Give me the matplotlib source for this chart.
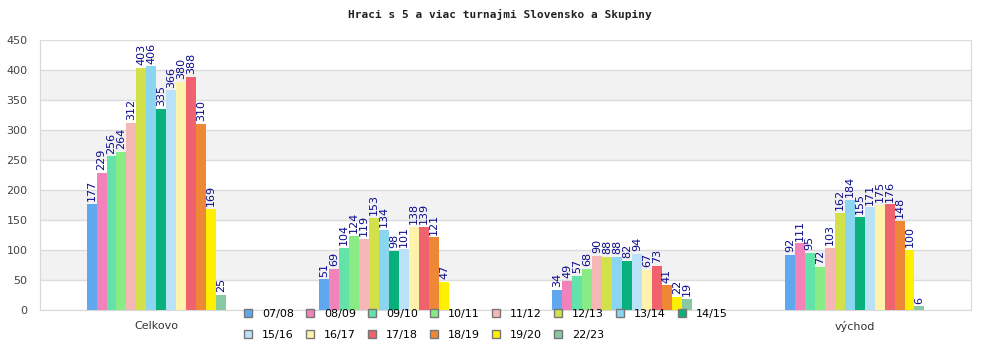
import numpy as np
import matplotlib
matplotlib.use('Agg')
import matplotlib.pyplot as plt
from matplotlib.patches import Patch

title = 'Hraci s 5 a viac turnajmi Slovensko a Skupiny'
categories = ['Celkovo', '', '', 'východ']
seasons = ['07/08', '08/09', '09/10', '10/11', '11/12', '12/13', '13/14',
           '14/15', '15/16', '16/17', '17/18', '18/19', '19/20', '22/23']
colors = ['#5fa8f0', '#f282b9', '#63e3a9', '#88eb83', '#f5b6b6', '#d2e04a',
          '#8ad6f0', '#08b07b', '#b9e2f8', '#fff2aa', '#f0626e', '#ee8836',
          '#fff000', '#88c8a2']

# one list per season, values for the four groups
s0708 = [177, 51, 34, 92]
s0809 = [229, 69, 49, 111]
s0910 = [256, 104, 57, 95]
s1011 = [264, 124, 68, 72]
s1112 = [312, 119, 90, 103]
s1213 = [403, 153, 88, 162]
s1314 = [406, 134, 88, 184]
s1415 = [335, 98, 82, 155]
s1516 = [366, 101, 94, 171]
s1617 = [380, 138, 67, 175]
s1718 = [388, 139, 73, 176]
s1819 = [310, 121, 41, 148]
s1920 = [169, 47, 22, 100]
s2223 = [25, None, 19, 6]
series = [s0708, s0809, s0910, s1011, s1112, s1213, s1314,
          s1415, s1516, s1617, s1718, s1819, s1920, s2223]

fig = plt.figure(figsize=(10, 3.5), dpi=100)
ax = fig.add_axes([0.04, 0.114, 0.931, 0.772])

x = np.arange(len(categories))
n = len(series)
group_w = 0.6
bw = group_w / n

for i, (vals, c) in enumerate(zip(series, colors)):
    xs = x - group_w / 2 + bw * (i + 0.5)
    for xi, v in zip(xs, vals):
        if v is None:
            continue
        ax.bar(xi, v, width=bw, color=c, linewidth=0, zorder=3)
        ax.annotate(str(v), (xi, v), xytext=(0, 2), textcoords='offset points',
                    rotation=90, ha='center', va='bottom', fontsize=8,
                    color='#0a0a8c', zorder=4)

ax.set_xlim(-0.5, len(categories) - 0.5)
ax.set_ylim(0, 450)
ax.set_yticks(range(0, 451, 50))

# alternating background bands
for lo in range(50, 450, 100):
    ax.axhspan(lo, lo + 50, color='#f2f2f2', zorder=0, linewidth=0)
ax.yaxis.grid(True, color='#dcdcdc', linewidth=1, zorder=1)
ax.set_axisbelow(True)

ax.set_xticks(x)
ax.set_xticklabels(categories, fontsize=8, color='#333333')
ax.tick_params(axis='y', labelsize=8, labelcolor='#444444', length=0, pad=9)
ax.tick_params(axis='x', length=0, pad=8)
ax.spines['top'].set_visible(False)
for side in ['left', 'right', 'bottom']:
    ax.spines[side].set_color('#d8d8d8')

fig.text(0.5, 0.96, title, ha='center', va='center', fontsize=8,
         fontweight='bold', family='DejaVu Sans Mono', color='#222222')

# legend fills column by column, so reorder to read row by row
order = [0, 8, 1, 9, 2, 10, 3, 11, 4, 12, 5, 13, 6, 7]
handles = [Patch(facecolor=colors[k], edgecolor='#777777', linewidth=1) for k in order]
labels = [seasons[k] for k in order]
fig.legend(handles, labels, loc='upper left', bbox_to_anchor=(0.244, 0.117),
           ncol=8, frameon=False, fontsize=8, handlelength=0.7,
           handleheight=0.7, handletextpad=0.9, columnspacing=1.1,
           labelspacing=0.95, borderpad=0, borderaxespad=0)

fig.savefig('out.png', dpi=100)
